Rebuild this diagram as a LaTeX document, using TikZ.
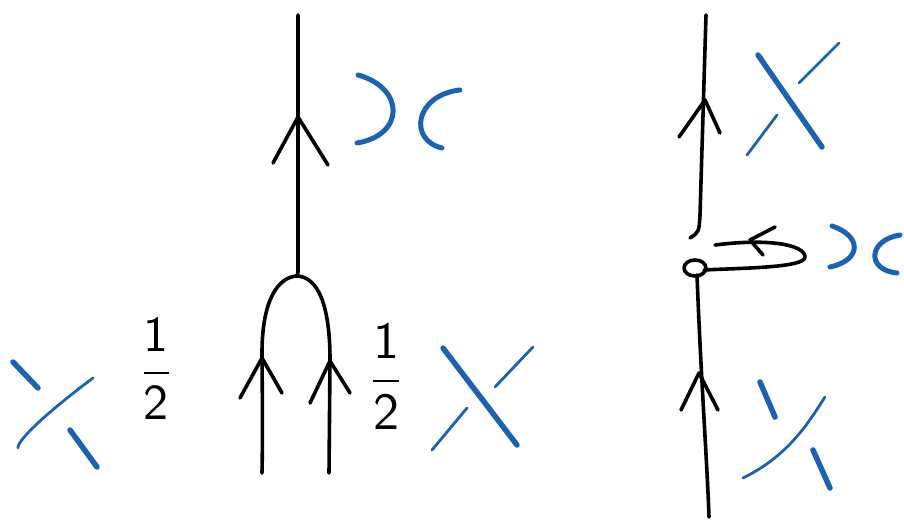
\documentclass[tikz,border=0pt]{standalone}
\usepackage{amsmath}
\usepackage{graphicx}
\definecolor{inkblue}{RGB}{28,98,178}
\tikzset{
  ink/.style={line width=3.6pt, line cap=round, line join=round, black},
  bthick/.style={line width=5.5pt, line cap=round, inkblue},
  bthin/.style={line width=2.8pt, line cap=round, inkblue},
  bcurve/.style={line width=5pt, line cap=round, inkblue},
  frac/.style={inner sep=0pt}
}
\begin{document}
\begin{tikzpicture}[x=1pt,y=-1pt]
\useasboundingbox (0,0) rectangle (904,522);
% ---------- left diagram ----------
\coordinate (Ltop) at (298,15);
\coordinate (Ljoin) at (297,276);
\draw[ink] (Ltop) -- (298,272) -- (Ljoin);
\draw[ink] (273,163) -- (298,117) -- (328,165);
\draw[ink] (262,473) .. controls (263,420) and (262,380) .. (262,353)
  .. controls (262,300) and (278,277) .. (Ljoin)
  .. controls (318,277) and (330,305) .. (330,360) -- (329,473);
\draw[ink] (240,398) -- (262,358) -- (282,393);
\draw[ink] (310,403) -- (330,361) -- (350,393);
% blue ) c top
\draw[bcurve] (358,75) .. controls (405,88) and (405,135) .. (357,143);
\draw[bcurve] (460,90) .. controls (415,95) and (408,140) .. (442,148);
% blue crossing far left
\draw[bthin] (18,448) .. controls (17,440) and (50,410) .. (93,378);
\draw[bthick] (13,362) -- (38,388);
\draw[bthick] (70,430) -- (97,467);
% blue X middle
\draw[bthick] (443,348) -- (517,445);
\draw[bthin] (432,450) -- (467,408);
\draw[bthin] (495,387) -- (533,347);
% fractions
\node[frac] (fracL) at (156,369) {\scalebox{5}{$\dfrac{\mathsf{1}}{\mathsf{2}}$}};
\node[frac] (fracR) at (386,377) {\scalebox{5.2}{$\dfrac{\mathsf{1}}{\mathsf{2}}$}};
% ---------- right diagram ----------
\coordinate (Rtop) at (706,15);
\draw[ink] (Rtop) -- (700,215) .. controls (699,232) .. (690,238);
\draw[ink] (679,137) -- (705,100) -- (720,133);
\draw[ink] (715,245) .. controls (770,238) and (805,245) .. (805,257)
  .. controls (805,268) and (740,268) .. (704,270);
\draw[ink] (695,268) ellipse [x radius=11, y radius=8];
\draw[ink] (775,227) -- (750,240) -- (763,255);
\draw[ink] (697,275) .. controls (701,380) and (707,460) .. (709,517);
\draw[ink] (681,410) -- (699,373) -- (718,410);
% blue X upper right
\draw[bthick] (758,55) -- (822,147);
\draw[bthin] (747,155) -- (777,115);
\draw[bthin] (799,83) -- (839,43);
% blue ) c right
\draw[bcurve] (832,226) .. controls (862,236) and (862,260) .. (830,267);
\draw[bcurve] (900,235) .. controls (868,240) and (866,270) .. (897,273);
% blue crossing lower right
\draw[bthin] (743,478) .. controls (790,455) and (810,420) .. (825,397);
\draw[bthick] (760,382) -- (775,417);
\draw[bthick] (813,450) -- (830,488);
\end{tikzpicture}
\end{document}
